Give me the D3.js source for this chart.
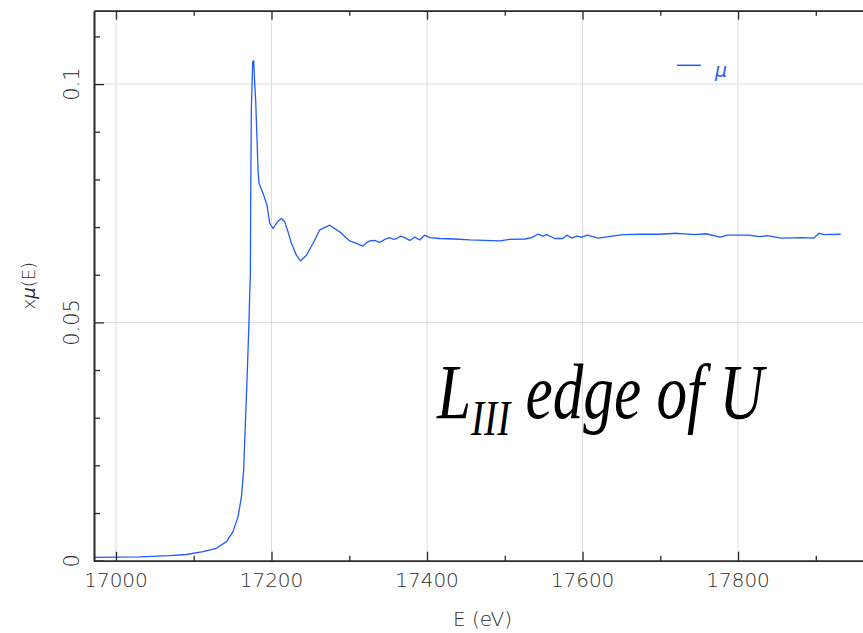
<!DOCTYPE html>
<html>
<head>
<meta charset="utf-8">
<script src="https://cdn.jsdelivr.net/npm/d3@7"></script>
<style>
  html, body { margin: 0; padding: 0; background: #fff; }
  svg { display: block; }
</style>
</head>
<body>
<svg id="chart" width="863" height="633"></svg>
<script>
// ---- data ----
const energy = [16972, 17030.5, 17069.1, 17090.5, 17111.9, 17129.1, 17142, 17150.5, 17156.9, 17161.3,
  17164.2, 17166.4, 17168.5, 17170.7, 17172, 17172.8, 17173.2, 17174.1, 17175.8, 17177.1,
  17178.4, 17179.7, 17181.4, 17182.6, 17183.9, 17189.1, 17194.2, 17197.7, 17201.9, 17207.6,
  17212.7, 17217, 17221.2, 17225.6, 17232, 17237.2, 17244.9, 17253.4, 17262, 17274.9,
  17287.7, 17300.6, 17309.2, 17313, 17317.7, 17322, 17326.3, 17332.7, 17339, 17345.6, 17352,
  17357, 17361, 17366, 17371.3, 17377.8, 17384.2, 17390.6, 17397, 17403.5, 17416.3, 17435.6, 17454.9,
  17474.2, 17493.5, 17506.4, 17525.7, 17534.7, 17542.4, 17548.8, 17554, 17564.3, 17574.6,
  17579.7, 17586.2, 17592.6, 17599, 17606.2, 17619.9, 17652.3, 17675.5, 17698.5, 17721.7,
  17744.8, 17758.7, 17777.2, 17786.4, 17814.1, 17828, 17837.3, 17855.8, 17883.5, 17897.4,
  17904.3, 17911.3, 17932.1];
const mu = [0.0007, 0.0008, 0.00105, 0.0013, 0.0019, 0.0026, 0.0040, 0.0061, 0.0092, 0.0134,
  0.0190, 0.0288, 0.0379, 0.0484, 0.0560, 0.0600, 0.0753, 0.0949, 0.1047, 0.1049,
  0.1001, 0.0963, 0.0882, 0.0823, 0.0792, 0.0771, 0.0746, 0.0708, 0.0697, 0.0711,
  0.0718, 0.0711, 0.0690, 0.0666, 0.0641, 0.0629, 0.0641, 0.0666, 0.0694, 0.0704,
  0.0690, 0.0671, 0.0666, 0.0663, 0.0660, 0.0667, 0.0671, 0.0672, 0.0668, 0.0674, 0.0678,
  0.0674, 0.0676, 0.0681, 0.0678, 0.0672, 0.0679, 0.0673, 0.0683, 0.0678, 0.0676, 0.0675, 0.0673,
  0.0672, 0.0671, 0.0674, 0.0675, 0.0678, 0.0685, 0.0681, 0.0684, 0.0676, 0.0676,
  0.0683, 0.0677, 0.0681, 0.0679, 0.0683, 0.0677, 0.0684, 0.0685, 0.0685, 0.0687,
  0.0684, 0.0686, 0.0679, 0.0683, 0.0683, 0.0680, 0.0682, 0.0677, 0.0678, 0.0677,
  0.0687, 0.0684, 0.0685];
const xMajorTicks = [17000, 17200, 17400, 17600, 17800];
const xMinorTicks = [17100, 17300, 17500, 17700, 17900];
const yMajorTicks = [0, 0.05, 0.1];
const yMinorTicks = [0.01, 0.02, 0.03, 0.04, 0.06, 0.07, 0.08, 0.09, 0.11];
const yTickLabels = ["0", "0.05", "0.1"];
const seriesName = "\u03bc";

// ---- layout ----
const pL = 94, pR = 871, pT = 10.7, pB = 560.7;
const svg = d3.select("#chart");
const x = d3.scaleLinear().domain([16971.7, 17971]).range([pL, pR]);
const y = d3.scaleLinear().domain([0, 0.1154]).range([pB, pT]);

const axisColor = "#2a2a2a";
const gridColor = "#dcdcdc";
const lineColor = "#1f5cff";
const labelFont = "'DejaVu Sans', sans-serif";

// grid
const grid = svg.append("g");
grid.selectAll("line.vx").data(xMajorTicks).join("line")
  .attr("x1", d => x(d)).attr("x2", d => x(d))
  .attr("y1", pT).attr("y2", pB)
  .attr("stroke", gridColor).attr("stroke-width", 1);
grid.selectAll("line.hy").data(yMajorTicks.filter(d => d > 0)).join("line")
  .attr("x1", pL).attr("x2", pR)
  .attr("y1", d => y(d)).attr("y2", d => y(d))
  .attr("stroke", gridColor).attr("stroke-width", 1);

// data line
svg.append("clipPath").attr("id", "clip").append("rect")
  .attr("x", pL).attr("y", pT).attr("width", pR - pL).attr("height", pB - pT);
const pts = energy.map((e, i) => [e, mu[i]]);
svg.append("path")
  .datum(pts)
  .attr("clip-path", "url(#clip)")
  .attr("fill", "none")
  .attr("stroke", lineColor)
  .attr("stroke-width", 1.3)
  .attr("stroke-linejoin", "round")
  .attr("d", d3.line().x(d => x(d[0])).y(d => y(d[1])));

// axes: inward ticks using d3 axes
function styleAxis(g) {
  g.select(".domain").attr("stroke", axisColor).attr("stroke-width", 1.6);
  g.selectAll(".tick line").attr("stroke", axisColor).attr("stroke-width", 1.3);
  g.selectAll(".tick text").remove();
}
svg.append("g").attr("transform", `translate(0,${pB})`)
  .call(d3.axisBottom(x).tickValues(xMinorTicks).tickSizeInner(-5).tickSizeOuter(0)).call(styleAxis);
svg.append("g").attr("transform", `translate(0,${pB})`)
  .call(d3.axisBottom(x).tickValues(xMajorTicks).tickSizeInner(-9).tickSizeOuter(0)).call(styleAxis);
svg.append("g").attr("transform", `translate(0,${pT})`)
  .call(d3.axisTop(x).tickValues(xMinorTicks).tickSizeInner(-5).tickSizeOuter(0)).call(styleAxis);
svg.append("g").attr("transform", `translate(0,${pT})`)
  .call(d3.axisTop(x).tickValues(xMajorTicks).tickSizeInner(-9).tickSizeOuter(0)).call(styleAxis);
svg.append("g").attr("transform", `translate(${pL},0)`)
  .call(d3.axisLeft(y).tickValues(yMinorTicks).tickSizeInner(-6).tickSizeOuter(0)).call(styleAxis);
svg.append("g").attr("transform", `translate(${pL},0)`)
  .call(d3.axisLeft(y).tickValues(yMajorTicks).tickSizeInner(-10).tickSizeOuter(0)).call(styleAxis);

// tick labels
const textColor = "#2e2e2e";
svg.append("g").selectAll("text").data(xMajorTicks).join("text")
  .attr("x", d => x(d)).attr("y", 587)
  .attr("text-anchor", "middle")
  .attr("font-family", labelFont).attr("font-size", 20).attr("font-weight", 200)
  .attr("fill", textColor)
  .text(d => d);
svg.append("g").selectAll("text").data(yMajorTicks).join("text")
  .attr("transform", d => `translate(79,${y(d)}) rotate(-90)`)
  .attr("text-anchor", "middle")
  .attr("font-family", labelFont).attr("font-size", 21).attr("font-weight", 200)
  .attr("fill", textColor)
  .text((d, i) => yTickLabels[i]);

// axis titles
svg.append("text")
  .attr("x", (pL + pR) / 2).attr("y", 626)
  .attr("text-anchor", "middle")
  .attr("font-family", labelFont).attr("font-size", 20).attr("font-weight", 200)
  .attr("fill", textColor)
  .text("E (eV)");
const yt = svg.append("text")
  .attr("transform", `translate(35,${(pT + pB) / 2}) rotate(-90)`)
  .attr("text-anchor", "middle")
  .attr("font-family", labelFont).attr("font-size", 18).attr("font-weight", 200)
  .attr("fill", textColor);
yt.append("tspan").text("x");
yt.append("tspan").attr("font-style", "italic").text("\u03bc");
yt.append("tspan").text("(E)");

// legend
svg.append("line")
  .attr("x1", 677).attr("x2", 701).attr("y1", 65.3).attr("y2", 65.3)
  .attr("stroke", lineColor).attr("stroke-width", 1.5);
svg.append("text")
  .attr("x", 715).attr("y", 77)
  .attr("font-family", labelFont).attr("font-size", 19).attr("font-style", "italic")
  .attr("fill", lineColor)
  .text(seriesName);

// annotation (single text element with subscript tspan)
const serif = "'Liberation Serif', 'DejaVu Serif', serif";
const ann = svg.append("text")
  .attr("transform", "translate(437,418) scale(0.785,1)")
  .attr("font-family", serif).attr("font-size", 78).attr("font-style", "italic")
  .attr("fill", "#000");
ann.append("tspan").text("L");
ann.append("tspan").attr("font-size", 50).attr("dy", 17).text("III");
ann.append("tspan").attr("dy", -17).text(" edge of U");
</script>
</body>
</html>
